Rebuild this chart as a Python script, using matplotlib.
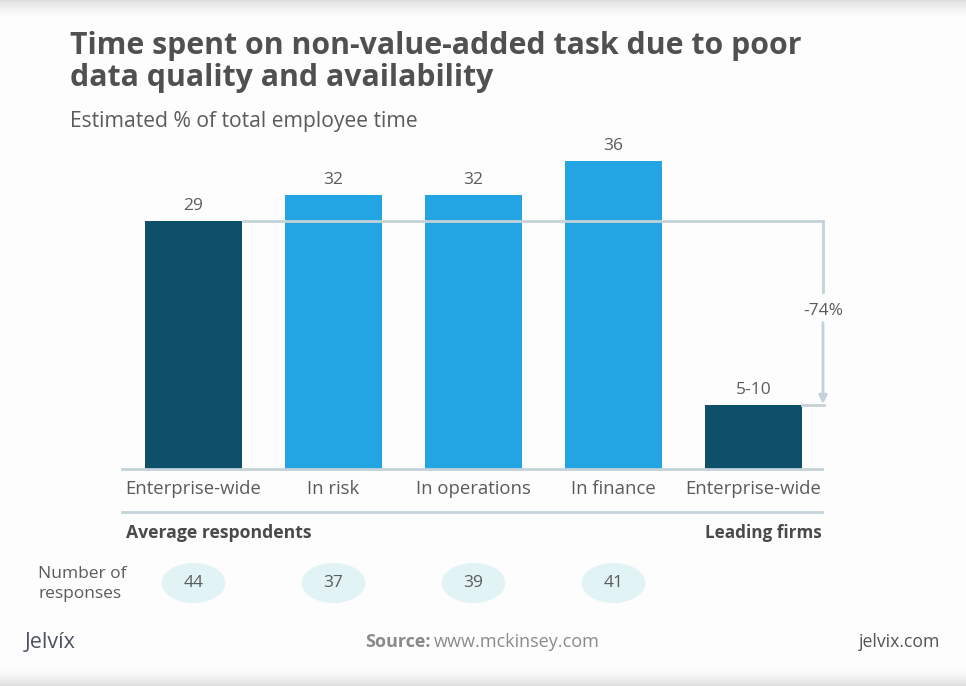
import numpy as np
import matplotlib
matplotlib.use("Agg")
import matplotlib.pyplot as plt
from matplotlib.patches import Ellipse
from matplotlib.lines import Line2D

# ---- data ----
categories = ["Enterprise-wide", "In risk", "In operations", "In finance", "Enterprise-wide"]
values = [29, 32, 32, 36, 7.5]
value_labels = ["29", "32", "32", "36", "5-10"]
groups = ["avg", "avg", "avg", "avg", "lead"]
responses = [44, 37, 39, 41]
change_label = "-74%"

W, H = 966, 686
DARK = "#0e4f69"
LIGHT = "#22a5e2"
LINE = "#c3d2d8"
TXT = "#5b5b5b"
FONT = ["Open Sans", "DejaVu Sans"]
plt.rcParams["font.family"] = FONT

fig = plt.figure(figsize=(W / 100, H / 100), dpi=100)

def fx(x):
    return x / W

def fy(y):
    return 1 - y / H

# background with soft shadows top/bottom
bg = fig.add_axes([0, 0, 1, 1], zorder=-10)
bg.set_axis_off()
rows = np.arange(H)
top = np.clip(rows / 16.0, 0, 1) ** 0.7
bot = np.clip((H - 1 - rows) / 16.0, 0, 1) ** 0.7
g = 0.87 + 0.125 * np.minimum(top, bot)
g = np.minimum(g, 0.993)
img = np.dstack([g, g, g]).reshape(H, 1, 3)
bg.imshow(img, aspect="auto", extent=[0, 1, 0, 1], origin="upper")
bg.set_xlim(0, 1)
bg.set_ylim(0, 1)

# main bar axes: pixel 122..822 horizontally, baseline 469, top 140
left_px, right_px, base_px, top_px = 122, 822, 469, 140
ax = fig.add_axes([fx(left_px), fy(base_px), (right_px - left_px) / W, (base_px - top_px) / H])
pitch = 140.0
c0 = 193.5
xmin = (left_px - c0) / pitch
xmax = (right_px - c0) / pitch
ax.set_xlim(xmin, xmax)
ppu = 8.56
ax.set_ylim(0, (base_px - top_px) / ppu)
ax.patch.set_alpha(0)

x = np.arange(len(categories))
colors = [DARK if (i == 0 or g_ == "lead") else LIGHT for i, g_ in enumerate(groups)]
bw = 97 / pitch
bars = ax.bar(x, values, width=bw, color=colors, zorder=2)

for xi, v, lab in zip(x, values, value_labels):
    ax.annotate(lab, (xi, v), xytext=(0, 5), textcoords="offset points",
                ha="center", va="bottom", fontsize=12.5, color=TXT)

for s in ["top", "right", "left"]:
    ax.spines[s].set_visible(False)
ax.spines["bottom"].set_color(LINE)
ax.spines["bottom"].set_linewidth(2)
ax.set_yticks([])
ax.set_xticks(x)
ax.set_xticklabels(categories, fontsize=13.3, color=TXT)
ax.tick_params(axis="x", length=0, pad=8)

# bracket
bx = (823 - c0) / pitch
ax.plot([bw / 2, bx], [values[0], values[0]], color=LINE, lw=2, zorder=3, clip_on=False,
        solid_capstyle="butt")
ax.plot([bx, bx], [values[0], 20.7], color=LINE, lw=2, zorder=3, clip_on=False)
ax.annotate("", xy=(bx, values[4] + 0.1), xytext=(bx, 17.1),
            arrowprops=dict(arrowstyle="-|>", color=LINE, lw=2, mutation_scale=12,
                            shrinkA=0, shrinkB=0), annotation_clip=False)
ax.plot([4 + bw / 2, bx + 0.01], [values[4], values[4]], color=LINE, lw=2, zorder=3,
        clip_on=False)
ax.text(bx, 18.4, change_label, ha="center", va="center", fontsize=12.5, color=TXT)

# second separator line
fig.add_artist(Line2D([fx(left_px), fx(right_px)], [fy(512), fy(512)], color=LINE, lw=2))

# group labels
fig.text(fx(126), fy(533), "Average respondents", fontsize=12.7, fontweight="bold",
         color="#4a4a4a", ha="left", va="center")
fig.text(fx(822), fy(533), "Leading firms", fontsize=12.3, fontweight="bold",
         color="#4a4a4a", ha="right", va="center")

# responses row
ax2 = fig.add_axes([fx(left_px), fy(606), (right_px - left_px) / W, 46 / H])
ax2.set_xlim(xmin, xmax)
ax2.set_ylim(0, 46)
ax2.set_axis_off()
for i, r in enumerate(responses):
    ax2.add_patch(Ellipse((i, 23), 64 / pitch, 40, color="#e2f3f5", lw=0))
    ax2.text(i, 23, str(r), ha="center", va="center", fontsize=12.5, color=TXT)
fig.text(fx(38), fy(584), "Number of\nresponses", fontsize=12.5, color=TXT,
         ha="left", va="center", linespacing=1.3)

# titles
fig.text(fx(70), fy(46), "Time spent on non-value-added task due to poor",
         fontsize=21.8, fontweight="bold", color="#505050", ha="left", va="center")
fig.text(fx(70), fy(78), "data quality and availability",
         fontsize=21.8, fontweight="bold", color="#505050", ha="left", va="center")
fig.text(fx(70), fy(122), "Estimated % of total employee time",
         fontsize=15.2, color=TXT, ha="left", va="center")

# footer
fig.text(fx(25), fy(642), "Jelvíx", fontsize=15.5, color="#4a5263", ha="left", va="center")
fig.text(fx(365), fy(642), "Source:", fontsize=13, fontweight="bold", color="#8a8a8a",
         ha="left", va="center")
fig.text(fx(434), fy(642), "www.mckinsey.com", fontsize=13, color="#8a8a8a",
         ha="left", va="center")
fig.text(fx(940), fy(642), "jelvix.com", fontsize=12.7, color="#555555",
         ha="right", va="center")

fig.savefig("out.png", dpi=100)
